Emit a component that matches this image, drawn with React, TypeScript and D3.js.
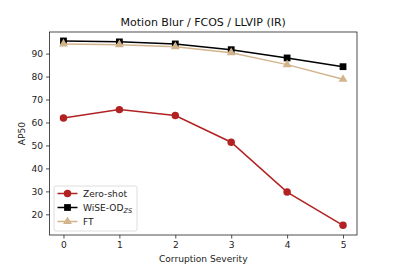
import * as d3 from "d3";
import { useEffect, useRef } from "react";

const severities = [0, 1, 2, 3, 4, 5];
const zeroShot = [61.9, 65.6, 63.0, 51.4, 29.7, 15.2];
const wiseOD = [95.5, 95.1, 94.2, 91.7, 88.1, 84.3];
const fineTuned = [94.2, 93.9, 93.0, 90.4, 85.2, 78.8];
const yTicks = [20, 30, 40, 50, 60, 70, 80, 90];

const W = 397;
const H = 264;
const margin = { top: 32, right: 40, bottom: 29, left: 49.5 };
const font = "DejaVu Sans, sans-serif";
const fs = 9.1;

export default function App() {
  const ref = useRef<SVGSVGElement>(null);

  useEffect(() => {
    const svg = d3.select(ref.current);
    svg.selectAll("*").remove();

    const x = d3.scaleLinear().domain([-0.25, 5.25]).range([margin.left, W - margin.right]);
    const y = d3.scaleLinear().domain([11.0, 99.4]).range([H - margin.bottom, margin.top]);

    const series = [
      { name: "Zero-shot", values: zeroShot, color: "#b22222", marker: "circle" },
      { name: "WiSE-OD", values: wiseOD, color: "#000000", marker: "square" },
      { name: "FT", values: fineTuned, color: "#d2b48c", marker: "triangle" },
    ];

    const symbolFor = (m: string) =>
      m === "circle" ? d3.symbolCircle : m === "square" ? d3.symbolSquare : d3.symbolTriangle;
    const sizeFor = (m: string) => (m === "circle" ? 44 : m === "square" ? 46 : 34);

    // lines + markers
    const line = d3
      .line<number>()
      .x((_, i) => x(severities[i]))
      .y((d) => y(d));

    series.forEach((s) => {
      svg
        .append("path")
        .datum(s.values)
        .attr("d", line)
        .attr("fill", "none")
        .attr("stroke", s.color)
        .attr("stroke-width", 1.5);
      svg
        .selectAll(null)
        .data(s.values)
        .enter()
        .append("path")
        .attr("d", d3.symbol().type(symbolFor(s.marker)).size(sizeFor(s.marker)))
        .attr("transform", (d, i) => `translate(${x(severities[i])},${y(d)})`)
        .attr("fill", s.color);
    });

    // axes
    const xAxis = svg
      .append("g")
      .attr("transform", `translate(0,${H - margin.bottom})`)
      .call(d3.axisBottom(x).tickValues(severities).tickSize(3.5).tickPadding(3).tickFormat(d3.format("d")));
    const yAxis = svg
      .append("g")
      .attr("transform", `translate(${margin.left},0)`)
      .call(d3.axisLeft(y).tickValues(yTicks).tickSize(3.5).tickPadding(3).tickFormat(d3.format("d")));
    [xAxis, yAxis].forEach((g) => {
      g.select(".domain").remove();
      g.selectAll("text").attr("font-family", font).attr("font-size", fs).attr("fill", "#222");
      g.selectAll("line").attr("stroke", "#222").attr("stroke-width", 0.8);
    });

    // frame
    svg
      .append("rect")
      .attr("x", margin.left)
      .attr("y", margin.top)
      .attr("width", W - margin.left - margin.right)
      .attr("height", H - margin.top - margin.bottom)
      .attr("fill", "none")
      .attr("stroke", "#222")
      .attr("stroke-width", 0.8);

    // title and labels
    svg
      .append("text")
      .attr("x", (margin.left + W - margin.right) / 2)
      .attr("y", 26)
      .attr("text-anchor", "middle")
      .attr("font-family", font)
      .attr("font-size", 11)
      .attr("fill", "#111")
      .text("Motion Blur / FCOS / LLVIP (IR)");
    svg
      .append("text")
      .attr("x", (margin.left + W - margin.right) / 2)
      .attr("y", 261.5)
      .attr("text-anchor", "middle")
      .attr("font-family", font)
      .attr("font-size", fs)
      .attr("fill", "#222")
      .text("Corruption Severity");
    svg
      .append("text")
      .attr("transform", `translate(25,${(margin.top + H - margin.bottom) / 2}) rotate(-90)`)
      .attr("text-anchor", "middle")
      .attr("font-family", font)
      .attr("font-size", fs)
      .attr("fill", "#222")
      .text("AP50");

    // legend
    const lg = svg.append("g").attr("transform", `translate(54,186)`);
    lg.append("rect")
      .attr("width", 83)
      .attr("height", 45)
      .attr("rx", 2)
      .attr("fill", "white")
      .attr("fill-opacity", 0.8)
      .attr("stroke", "#d6d6d6")
      .attr("stroke-width", 0.8);
    series.forEach((s, i) => {
      const cy = 7.5 + i * 14;
      lg.append("line")
        .attr("x1", 3.5)
        .attr("x2", 23.5)
        .attr("y1", cy)
        .attr("y2", cy)
        .attr("stroke", s.color)
        .attr("stroke-width", 1.5);
      lg.append("path")
        .attr("d", d3.symbol().type(symbolFor(s.marker)).size(sizeFor(s.marker)))
        .attr("transform", `translate(13.5,${cy})`)
        .attr("fill", s.color);
      const t = lg
        .append("text")
        .attr("x", 29)
        .attr("y", cy + 3.3)
        .attr("font-family", font)
        .attr("font-size", fs)
        .attr("fill", "#222")
        .text(s.name);
      if (s.name === "WiSE-OD") {
        t.append("tspan")
          .attr("font-size", 6.5)
          .attr("font-style", "italic")
          .attr("dy", 2)
          .text("ZS");
      }
    });
  }, []);

  return (
    <svg
      ref={ref}
      width={W}
      height={H}
      style={{ position: "absolute", left: 0, top: 0, background: "white" }}
    />
  );
}
